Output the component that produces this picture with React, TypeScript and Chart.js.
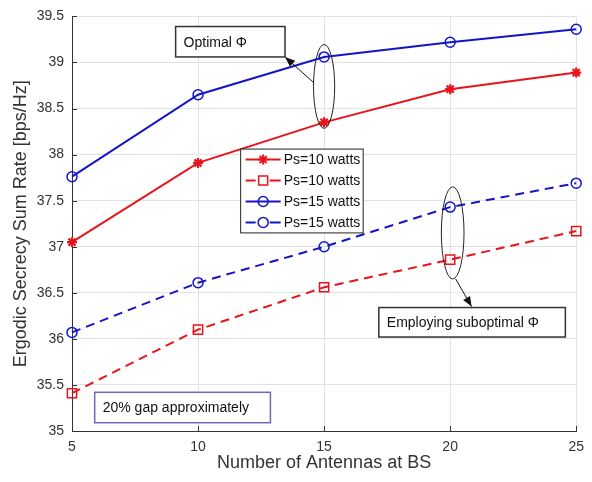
import React, { useEffect, useRef } from "react";
import { Chart, registerables } from "chart.js";

Chart.register(...registerables);

// ---- data ----
const antennas = [5, 10, 15, 20, 25];
const ps10Optimal = [37.05, 37.91, 38.35, 38.71, 38.89];
const ps10Suboptimal = [35.41, 36.1, 36.56, 36.86, 37.17];
const ps15Optimal = [37.76, 38.65, 39.06, 39.22, 39.36];
const ps15Suboptimal = [36.07, 36.61, 37.0, 37.43, 37.69];
const legendLabels = ["Ps=10 watts", "Ps=10 watts", "Ps=15 watts", "Ps=15 watts"];
const xTitle = "Number of Antennas at BS";
const yTitle = "Ergodic Secrecy Sum Rate [bps/Hz]";
const noteOptimal = "Optimal \u03A6";
const noteSuboptimal = "Employing suboptimal \u03A6";
const noteGap = "20% gap approximately";

const RED = "#e8141b";
const BLUE = "#1414c8";
const FONT = "'Liberation Sans', Arial, Helvetica, sans-serif";

const toXY = (vals: number[]) => antennas.map((a, i) => ({ x: a, y: vals[i] }));

type Marker = "star" | "rect" | "circle";

function drawMarker(ctx: CanvasRenderingContext2D, kind: Marker, cx: number, cy: number, color: string) {
  ctx.save();
  ctx.strokeStyle = color;
  ctx.lineWidth = kind === "star" ? 2 : 1.5;
  ctx.setLineDash([]);
  ctx.beginPath();
  if (kind === "circle") {
    ctx.arc(cx, cy, 5, 0, Math.PI * 2);
  } else if (kind === "rect") {
    ctx.rect(cx - 4.5, cy - 4.5, 9, 9);
  } else {
    const r = 5;
    ctx.moveTo(cx - r, cy); ctx.lineTo(cx + r, cy);
    ctx.moveTo(cx, cy - r); ctx.lineTo(cx, cy + r);
    const d = r * 0.707;
    ctx.moveTo(cx - d, cy - d); ctx.lineTo(cx + d, cy + d);
    ctx.moveTo(cx - d, cy + d); ctx.lineTo(cx + d, cy - d);
  }
  ctx.stroke();
  ctx.restore();
}

function arrow(ctx: CanvasRenderingContext2D, x1: number, y1: number, x2: number, y2: number) {
  ctx.save();
  ctx.strokeStyle = "#111";
  ctx.fillStyle = "#111";
  ctx.lineWidth = 1;
  ctx.beginPath();
  ctx.moveTo(x1, y1);
  ctx.lineTo(x2, y2);
  ctx.stroke();
  const ang = Math.atan2(y2 - y1, x2 - x1);
  const L = 10, W = 4;
  ctx.beginPath();
  ctx.moveTo(x2, y2);
  ctx.lineTo(x2 - L * Math.cos(ang) + W * Math.sin(ang), y2 - L * Math.sin(ang) - W * Math.cos(ang));
  ctx.lineTo(x2 - L * Math.cos(ang) - W * Math.sin(ang), y2 - L * Math.sin(ang) + W * Math.cos(ang));
  ctx.closePath();
  ctx.fill();
  ctx.restore();
}

const annotations = {
  id: "annotations",
  afterDatasetsDraw(chart: any) {
    const ctx: CanvasRenderingContext2D = chart.ctx;
    const xs = chart.scales.x;
    const ys = chart.scales.y;
    const X = (v: number) => xs.getPixelForValue(v);
    const Y = (v: number) => ys.getPixelForValue(v);
    ctx.save();

    // inward tick marks (MATLAB style)
    ctx.strokeStyle = "#333";
    ctx.lineWidth = 1;
    ctx.beginPath();
    xs.ticks.forEach((t: any) => {
      const px = Math.round(X(t.value)) + 0.5;
      ctx.moveTo(px, ys.bottom);
      ctx.lineTo(px, ys.bottom - 5);
    });
    ys.ticks.forEach((t: any) => {
      const py = Math.round(Y(t.value)) + 0.5;
      ctx.moveTo(xs.left, py);
      ctx.lineTo(xs.left + 5, py);
    });
    ctx.stroke();

    // ellipses
    const ell = (cx: number, cy: number, hx: number, hy: number) => {
      ctx.save();
      ctx.strokeStyle = "#222";
      ctx.lineWidth = 1;
      ctx.beginPath();
      ctx.ellipse(X(cx), Y(cy), Math.abs(X(cx + hx) - X(cx)), Math.abs(Y(cy + hy) - Y(cy)), 0, 0, Math.PI * 2);
      ctx.stroke();
      ctx.restore();
    };
    ell(15, 38.74, 0.42, 0.455);
    ell(20.1, 37.15, 0.45, 0.5);

    // arrows
    arrow(ctx, X(14.59), Y(38.78), X(13.45), Y(39.06));
    arrow(ctx, X(20.22), Y(36.65), X(20.85), Y(36.35));

    // text boxes
    const box = (x1: number, y1: number, x2: number, y2: number, text: string, border: string) => {
      const px1 = X(x1), py1 = Y(y1), px2 = X(x2), py2 = Y(y2);
      ctx.save();
      ctx.fillStyle = "#ffffff";
      ctx.fillRect(px1, py1, px2 - px1, py2 - py1);
      ctx.strokeStyle = border;
      ctx.lineWidth = 1.5;
      ctx.strokeRect(px1, py1, px2 - px1, py2 - py1);
      ctx.fillStyle = "#111";
      ctx.font = `14px ${FONT}`;
      ctx.textBaseline = "middle";
      ctx.textAlign = "left";
      ctx.fillText(text, px1 + 8, (py1 + py2) / 2 + 1);
      ctx.restore();
    };
    box(9.11, 39.39, 13.45, 39.06, noteOptimal, "#333");
    box(17.17, 36.34, 24.57, 36.02, noteSuboptimal, "#333");
    box(5.9, 35.42, 12.87, 35.09, noteGap, "#6a6ab8");

    // legend
    const lx1 = X(11.69), ly1 = Y(38.06), lx2 = X(16.55), ly2 = Y(37.15);
    ctx.fillStyle = "#ffffff";
    ctx.fillRect(lx1, ly1, lx2 - lx1, ly2 - ly1);
    ctx.strokeStyle = "#222";
    ctx.lineWidth = 1;
    ctx.strokeRect(lx1, ly1, lx2 - lx1, ly2 - ly1);
    const entries: { color: string; dashed: boolean; marker: Marker }[] = [
      { color: RED, dashed: false, marker: "star" },
      { color: RED, dashed: true, marker: "rect" },
      { color: BLUE, dashed: false, marker: "circle" },
      { color: BLUE, dashed: true, marker: "circle" },
    ];
    const rowH = (ly2 - ly1) / 4;
    entries.forEach((e, i) => {
      const cy = ly1 + rowH * (i + 0.5);
      const sx = lx1 + 5, ex = lx1 + 40, mx = (sx + ex) / 2;
      ctx.save();
      ctx.strokeStyle = e.color;
      ctx.lineWidth = 2;
      ctx.beginPath();
      if (e.dashed) {
        ctx.moveTo(sx, cy); ctx.lineTo(sx + 10, cy);
        ctx.moveTo(ex - 11, cy); ctx.lineTo(ex, cy);
      } else {
        ctx.moveTo(sx, cy); ctx.lineTo(ex, cy);
      }
      ctx.stroke();
      ctx.restore();
      drawMarker(ctx, e.marker, mx, cy, e.color);
      ctx.fillStyle = "#111";
      ctx.font = `14px ${FONT}`;
      ctx.textBaseline = "middle";
      ctx.textAlign = "left";
      ctx.fillText(legendLabels[i], lx1 + 43, cy + 1);
    });

    ctx.restore();
  },
};

export default function App() {
  const ref = useRef<HTMLCanvasElement | null>(null);

  useEffect(() => {
    document.body.style.margin = "0";
    const canvas = ref.current;
    if (!canvas) return;
    const mk = (data: number[], color: string, dashed: boolean, style: any) => ({
      data: toXY(data),
      borderColor: color,
      backgroundColor: "rgba(0,0,0,0)",
      borderWidth: 2,
      borderDash: dashed ? [9, 6] : [],
      pointStyle: style,
      pointRadius: style === "rect" ? 6.5 : 5,
      pointBorderWidth: style === "star" ? 2.2 : 1.5,
      pointBorderColor: color,
      pointBackgroundColor: "rgba(0,0,0,0)",
      tension: 0,
      clip: false as any,
    });
    const chart = new Chart(canvas, {
      type: "line",
      data: {
        datasets: [
          mk(ps10Optimal, RED, false, "star"),
          mk(ps10Suboptimal, RED, true, "rect"),
          mk(ps15Optimal, BLUE, false, "circle"),
          mk(ps15Suboptimal, BLUE, true, "circle"),
        ] as any,
      },
      options: {
        animation: false,
        responsive: false,
        maintainAspectRatio: false,
        layout: { padding: { top: 16, right: 9, left: 0, bottom: 0 } },
        plugins: { legend: { display: false }, tooltip: { enabled: false } },
        scales: {
          x: {
            type: "linear",
            min: 5,
            max: 25,
            afterFit: (s: any) => { s.height = 51; },
            ticks: {
              stepSize: 5,
              color: "#333",
              font: { family: FONT, size: 14 },
              padding: 8,
              maxRotation: 0,
            },
            grid: { color: "#e2e2e2", lineWidth: 1, drawTicks: false },
            border: { color: "#333", width: 1 },
            title: {
              display: true,
              text: xTitle,
              color: "#333",
              font: { family: FONT, size: 18 },
              padding: { top: 0, bottom: 8 },
            },
          },
          y: {
            type: "linear",
            min: 35,
            max: 39.5,
            afterFit: (s: any) => { s.width = 72; },
            ticks: {
              stepSize: 0.5,
              color: "#333",
              font: { family: FONT, size: 14 },
              padding: 8,
              callback: (v: any) => String(Number(v)),
            },
            grid: { color: "#e2e2e2", lineWidth: 1, drawTicks: false },
            border: { color: "#333", width: 1 },
            title: {
              display: true,
              text: yTitle,
              color: "#333",
              font: { family: FONT, size: 18 },
              padding: { top: 10, bottom: 0 },
            },
          },
        },
      },
      plugins: [annotations],
    });
    return () => chart.destroy();
  }, []);

  return (
    <div style={{ position: "absolute", left: 0, top: 0, width: 592, height: 482, background: "#fff" }}>
      <canvas ref={ref} width={592} height={482} style={{ width: 592, height: 482 }} />
    </div>
  );
}
